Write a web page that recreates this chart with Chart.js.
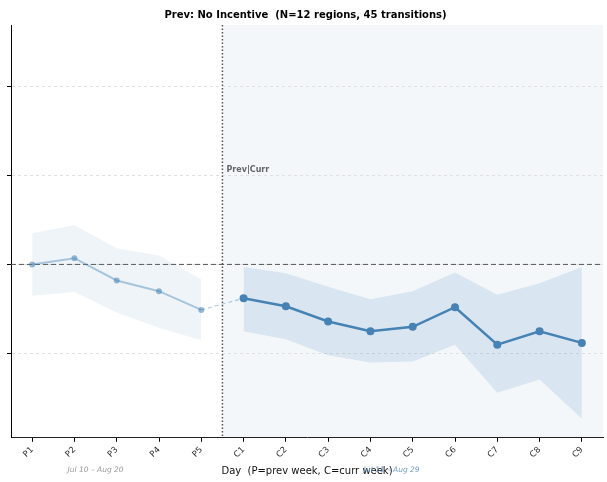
<!DOCTYPE html>
<html>
<head>
<meta charset="utf-8">
<script src="https://cdn.jsdelivr.net/npm/chart.js@4"></script>
<style>
  html, body { margin: 0; padding: 0; background: #fff; }
  #wrap { width: 607px; height: 482px; }
</style>
</head>
<body>
<div id="wrap"><canvas id="chart" width="607" height="482"></canvas></div>
<script>
const dayLabels = ["P1", "P2", "P3", "P4", "P5", "C1", "C2", "C3", "C4", "C5", "C6", "C7", "C8", "C9"];

const prevMean = [0.0, 0.007, -0.018, -0.030, -0.051];
const prevUpper = [0.035, 0.044, 0.018, 0.010, -0.017];
const prevLower = [-0.035, -0.031, -0.054, -0.071, -0.085];

const currMean = [-0.038, -0.047, -0.064, -0.075, -0.070, -0.048, -0.090, -0.075, -0.088];
const currUpper = [-0.003, -0.010, -0.025, -0.039, -0.030, -0.009, -0.034, -0.021, -0.003];
const currLower = [-0.075, -0.084, -0.102, -0.110, -0.109, -0.090, -0.144, -0.129, -0.173];

const yTicks = [-0.1, 0, 0.1, 0.2];
const prevRange = "Jul 10 \u2013 Aug 20";
const currRange = "Jul 11 \u2013 Aug 29";

const STEEL = "#4682b4";
const font = "'DejaVu Sans', sans-serif";

function points(values, offset) {
  return values.map((y, i) => ({ x: i + offset, y }));
}

const currStart = prevMean.length;
const divider = currStart - 0.5;

const overlay = {
  id: "overlay",
  beforeDraw(chart) {
    const { ctx, chartArea, scales } = chart;
    const left = scales.x.getPixelForValue(divider);
    ctx.save();
    ctx.fillStyle = "rgba(70,130,180,0.065)";
    ctx.fillRect(left, chartArea.top, chartArea.right - left, chartArea.bottom - chartArea.top);
    ctx.restore();
  },
  beforeDatasetsDraw(chart) {
    const { ctx, chartArea, scales } = chart;
    const zero = scales.y.getPixelForValue(0);
    const divX = scales.x.getPixelForValue(divider);
    ctx.save();
    ctx.strokeStyle = "#555";
    ctx.lineWidth = 1;
    ctx.setLineDash([5, 3]);
    ctx.beginPath();
    ctx.moveTo(chartArea.left, zero);
    ctx.lineTo(chartArea.right, zero);
    ctx.stroke();
    ctx.strokeStyle = "#555";
    ctx.lineWidth = 1.5;
    ctx.setLineDash([1.5, 2]);
    ctx.beginPath();
    ctx.moveTo(divX, chartArea.top);
    ctx.lineTo(divX, chartArea.bottom);
    ctx.stroke();
    ctx.restore();
  },
  afterDraw(chart) {
    const { ctx, chartArea, scales } = chart;
    const divX = scales.x.getPixelForValue(divider);
    ctx.save();
    ctx.font = "bold 8px " + font;
    ctx.fillStyle = "#666";
    ctx.textBaseline = "middle";
    ctx.fillText("Prev|Curr", divX + 4, chartArea.top + 0.352 * (chartArea.bottom - chartArea.top));

    ctx.font = "italic 7.5px " + font;
    ctx.textAlign = "center";
    ctx.fillStyle = "#999";
    ctx.fillText(prevRange, scales.x.getPixelForValue(1.5), chartArea.bottom + 32);
    ctx.fillStyle = "#6f9ccb";
    ctx.fillText(currRange, scales.x.getPixelForValue(8.5), chartArea.bottom + 32);
    ctx.restore();
  },
};

new Chart(document.getElementById("chart"), {
  type: "line",
  data: {
    datasets: [
      {
        data: points(currMean, currStart),
        borderColor: STEEL, backgroundColor: STEEL,
        borderWidth: 2.5, pointRadius: 4, pointBorderWidth: 0, fill: false,
      },
      {
        data: points(prevMean, 0),
        borderColor: "rgba(70,130,180,0.42)", backgroundColor: "rgba(70,130,180,0.55)",
        borderWidth: 2, pointRadius: 3, pointBorderWidth: 0, fill: false,
      },
      {
        data: [{ x: currStart - 1, y: prevMean[prevMean.length - 1] }, { x: currStart, y: currMean[0] }],
        borderColor: "rgba(70,130,180,0.4)", borderWidth: 1.2, borderDash: [4, 3],
        pointRadius: 0, fill: false,
      },
      {
        data: points(prevLower, 0),
        borderWidth: 0, pointRadius: 0, fill: false,
      },
      {
        data: points(prevUpper, 0),
        borderWidth: 0, pointRadius: 0, fill: "-1", backgroundColor: "rgba(70,130,180,0.09)",
      },
      {
        data: points(currLower, currStart),
        borderWidth: 0, pointRadius: 0, fill: false,
      },
      {
        data: points(currUpper, currStart),
        borderWidth: 0, pointRadius: 0, fill: "-1", backgroundColor: "rgba(70,130,180,0.15)",
      },
    ],
  },
  options: {
    responsive: false,
    animation: false,
    layout: { padding: { left: 7, right: 3, top: 0, bottom: 5 } },
    plugins: {
      legend: { display: false },
      tooltip: { enabled: false },
      title: {
        display: true,
        text: "Prev: No Incentive  (N=12 regions, 45 transitions)",
        color: "#000",
        font: { family: font, size: 10, weight: "bold" },
        padding: { top: 9, bottom: 4 },
      },
    },
    scales: {
      x: {
        type: "linear",
        min: -0.5,
        max: dayLabels.length - 0.5,
        afterBuildTicks: (axis) => { axis.ticks = dayLabels.map((_, i) => ({ value: i })); },
        ticks: {
          callback: (value) => dayLabels[value],
          minRotation: 45, maxRotation: 45,
          color: "#333", font: { family: font, size: 8.5 }, padding: 3,
        },
        grid: { drawOnChartArea: false, tickLength: 4, tickColor: "#000" },
        border: { color: "#222", width: 1 },
        title: {
          display: true,
          text: "Day  (P=prev week, C=curr week)",
          color: "#111",
          font: { family: font, size: 10 },
          padding: { top: 2, bottom: 0 },
        },
      },
      y: {
        min: -0.1944,
        max: 0.2685,
        afterBuildTicks: (axis) => { axis.ticks = yTicks.map((value) => ({ value })); },
        ticks: { display: false },
        grid: {
          color: "#e0e0e0", tickLength: 4, tickColor: "#000", tickBorderDash: [],
        },
        border: { color: "#000", width: 1, dash: [3, 3] },
      },
    },
  },
  plugins: [overlay],
});
</script>
</body>
</html>
